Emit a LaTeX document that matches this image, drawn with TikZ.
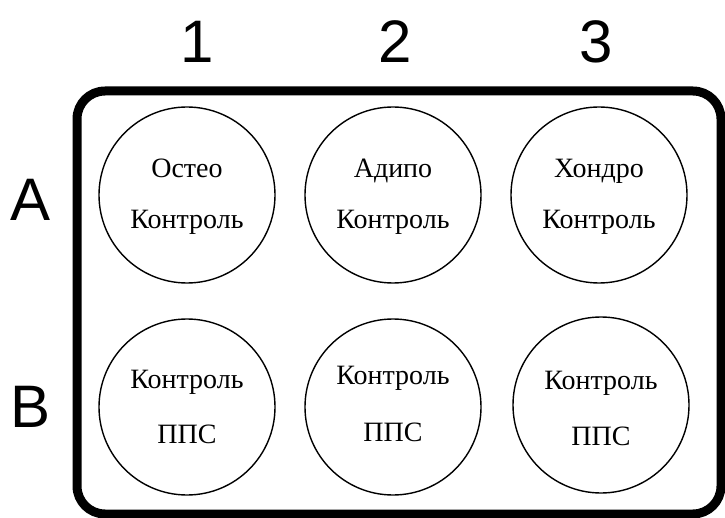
\documentclass[tikz,border=0pt]{standalone}
\usepackage{fontspec}
\setmainfont{Liberation Serif}
\newfontfamily\labelfont{Liberation Sans}
\begin{document}
\begin{tikzpicture}[x=1pt,y=-1pt,
  well/.style={draw=black,line width=1.4pt,circle,minimum size=176pt,inner sep=0pt},
  welltext/.style={font=\fontsize{28}{28}\selectfont,anchor=base},
  axislabel/.style={font=\labelfont\fontsize{60}{60}\selectfont},
  plate/.style={draw=black,line width=9pt,rounded corners=28pt}]
\useasboundingbox (0,0) rectangle (725,518);
% plate outline
\draw[plate] (77,91) rectangle (721,514);
% column and row labels
\node[axislabel] (c1) at (197,42) {1};
\node[axislabel] (c2) at (395,42) {2};
\node[axislabel] (c3) at (596,42) {3};
\node[axislabel] (rA) at (31,200) {A};
\node[axislabel] (rB) at (31,407) {B};
% wells
\node[well] (a1) at (187,195) {};
\node[well] (a2) at (393,195) {};
\node[well] (a3) at (599,195) {};
\node[well] (b1) at (187,407) {};
\node[well] (b2) at (393,407) {};
\node[well] (b3) at (601,405) {};
% well contents
\node[welltext] at (187,178) {Остео};
\node[welltext] at (187,229) {Контроль};
\node[welltext] at (393,178) {Адипо};
\node[welltext] at (393,229) {Контроль};
\node[welltext] at (599,178) {Хондро};
\node[welltext] at (599,229) {Контроль};
\node[welltext] at (187,388) {Контроль};
\node[welltext] at (187,443) {ППС};
\node[welltext] at (393,384) {Контроль};
\node[welltext] at (393,441) {ППС};
\node[welltext] at (601,389) {Контроль};
\node[welltext] at (601,445) {ППС};
\end{tikzpicture}
\end{document}
